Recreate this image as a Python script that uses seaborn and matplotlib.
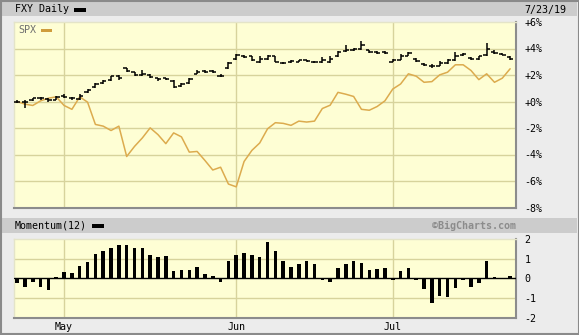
import numpy as np
import pandas as pd
import matplotlib
matplotlib.use('Agg')
import matplotlib.pyplot as plt
import seaborn as sns
from matplotlib.patches import Rectangle

# ---------------- data ----------------
month_labels = ['May', 'Jun', 'Jul']
month_start_idx = [6, 28, 48]

fxy_open = [0.00, -0.05, 0.10, 0.25, 0.20, 0.15, 0.40, 0.30, 0.20, 0.70,
            1.10, 1.40, 1.60, 1.95, 2.50, 2.20, 2.00, 2.00, 1.75, 1.75,
            1.58, 1.15, 1.40, 2.10, 2.30, 2.30, 1.96, 2.50, 3.18, 3.45,
            3.40, 2.95, 3.20, 3.40, 2.90, 2.95, 3.00, 3.10, 3.00, 2.95,
            2.95, 3.40, 3.80, 3.85, 4.00, 3.85, 3.75, 3.70, 3.00, 3.15,
            3.45, 3.20, 2.85, 2.70, 2.70, 2.90, 3.10, 3.50, 3.30, 3.20,
            3.50, 3.75, 3.60, 3.35]
fxy_high = [0.10, 0.08, 0.30, 0.33, 0.28, 0.40, 0.60, 0.35, 0.55, 0.95,
            1.40, 1.65, 1.95, 2.00, 2.55, 2.25, 2.35, 2.05, 1.80, 1.80,
            1.60, 1.40, 1.75, 2.35, 2.35, 2.35, 2.10, 2.95, 3.60, 3.50,
            3.45, 3.40, 3.50, 3.45, 3.00, 3.10, 3.15, 3.15, 3.05, 3.35,
            3.45, 3.80, 4.25, 4.05, 4.55, 3.90, 3.80, 3.80, 3.20, 3.60,
            3.75, 3.25, 2.90, 2.80, 3.05, 3.20, 3.70, 3.65, 3.35, 3.45,
            4.40, 3.90, 3.65, 3.40]
fxy_low = [-0.10, -0.50, 0.05, 0.15, 0.00, 0.10, 0.25, 0.15, 0.15, 0.65,
           1.05, 1.35, 1.55, 1.65, 2.20, 1.95, 1.95, 1.78, 1.55, 1.62,
           1.00, 1.10, 1.35, 2.05, 2.15, 2.15, 1.85, 2.45, 3.10, 3.25,
           3.05, 2.90, 3.15, 2.95, 2.85, 2.90, 2.95, 2.95, 2.90, 2.90,
           2.90, 3.35, 3.75, 3.80, 3.90, 3.65, 3.60, 3.60, 2.95, 3.10,
           3.40, 2.95, 2.70, 2.55, 2.65, 2.85, 3.05, 3.45, 3.10, 3.15,
           3.45, 3.60, 3.50, 3.10]
fxy_close = [-0.03, 0.00, 0.23, 0.23, 0.12, 0.35, 0.35, 0.23, 0.43, 0.86,
             1.32, 1.57, 1.90, 1.75, 2.30, 2.03, 2.10, 1.83, 1.70, 1.70,
             1.07, 1.32, 1.70, 2.26, 2.26, 2.21, 1.96, 2.90, 3.54, 3.36,
             3.10, 3.20, 3.43, 3.00, 2.93, 3.03, 3.10, 3.03, 2.98, 3.10,
             3.20, 3.74, 3.90, 3.99, 4.30, 3.74, 3.66, 3.66, 3.10, 3.40,
             3.66, 3.03, 2.77, 2.65, 2.90, 3.10, 3.40, 3.60, 3.20, 3.40,
             4.00, 3.66, 3.54, 3.18]
spx_pct = [0.00, -0.20, -0.30, 0.05, 0.25, 0.35, -0.30, -0.59, 0.35, -0.05,
           -1.73, -1.86, -2.19, -1.86, -4.15, -3.39, -2.75, -1.99, -2.50, -3.18,
           -2.37, -2.67, -3.82, -3.77, -4.45, -5.17, -4.96, -6.23, -6.44, -4.53,
           -3.69, -3.13, -2.06, -1.60, -1.65, -1.80, -1.48, -1.55, -1.48, -0.53,
           -0.28, 0.69, 0.55, 0.38, -0.59, -0.66, -0.38, 0.05, 0.94, 1.32,
           2.09, 1.91, 1.45, 1.50, 2.01, 2.21, 2.77, 2.77, 2.34, 1.65,
           2.09, 1.45, 1.76, 2.47]
momentum = [-0.26, -0.43, -0.17, -0.43, -0.60, 0.07, 0.34, 0.28, 0.64, 0.84,
            1.26, 1.41, 1.57, 1.72, 1.72, 1.57, 1.57, 1.21, 1.10, 1.16,
            0.38, 0.43, 0.43, 0.59, 0.22, 0.12, -0.17, 0.90, 1.21, 1.31,
            1.21, 1.10, 1.83, 1.41, 0.90, 0.59, 0.74, 0.90, 0.74, -0.10,
            -0.17, 0.53, 0.74, 0.90, 0.79, 0.43, 0.48, 0.53, -0.10, 0.38,
            0.53, -0.10, -0.57, -1.24, -0.90, -0.95, -0.52, -0.10, -0.43, -0.26,
            0.90, 0.05, -0.05, 0.10]

main_ticks = [6, 4, 2, 0, -2, -4, -6, -8]
main_tick_labels = ['+6%', '+4%', '+2%', '+0%', '-2%', '-4%', '-6%', '-8%']
mom_ticks = [2, 1, 0, -1, -2]
mom_tick_labels = ['2', '1', '0', '-1', '-2']

df = pd.DataFrame({'idx': np.arange(len(fxy_close)), 'open': fxy_open,
                   'high': fxy_high, 'low': fxy_low, 'close': fxy_close,
                   'spx': spx_pct, 'mom': momentum})

# ---------------- style ----------------
W, H = 579, 335
sns.set_theme(style='white')
plt.rcParams['font.family'] = ['DejaVu Sans Mono', 'DejaVu Sans']

BG = '#ececec'
HEADER = '#cccccc'
FACE = '#fefed4'
GRID = '#d7d39c'
SPXC = '#dcab4e'

fig = plt.figure(figsize=(W / 100, H / 100), dpi=100, facecolor=BG)


def add_ax(left, top, right, bottom):
    return fig.add_axes([left / W, 1 - bottom / H, (right - left) / W, (bottom - top) / H])


def fig_rect(left, top, right, bottom, **kw):
    r = Rectangle((left / W, 1 - bottom / H), (right - left) / W, (bottom - top) / H,
                  transform=fig.transFigure, **kw)
    fig.add_artist(r)
    return r


# header bars
fig_rect(2, 2, 577, 16, facecolor=HEADER, edgecolor='none', zorder=0)
fig_rect(2, 218, 577, 233, facecolor=HEADER, edgecolor='none', zorder=0)
# outer frame
fig_rect(0.5, 0.5, 578.5, 333.5, fill=False, edgecolor='#8a8a8a', lw=1.5, zorder=5)

fig.text(15 / W, 1 - 9.5 / H, 'FXY Daily', fontsize=7.2, va='center', ha='left', color='black')
fig_rect(74, 8, 86, 11.5, facecolor='black', edgecolor='none')
fig.text(524 / W, 1 - 9.5 / H, '7/23/19', fontsize=7.2, va='center', ha='left', color='black')

fig.text(15 / W, 1 - 225.5 / H, 'Momentum(12)', fontsize=7.2, va='center', ha='left', color='black')
fig_rect(92, 224, 104, 227.5, facecolor='black', edgecolor='none')
fig.text(516 / W, 1 - 225.5 / H, '©BigCharts.com', fontsize=7.2, va='center', ha='right',
         color='#8c8c8c', fontweight='bold')

xmin, xmax = -0.4, 63.75


def style_axes(ax):
    ax.set_facecolor(FACE)
    for s in ['top', 'left']:
        ax.spines[s].set_color('#e4e4c8')
        ax.spines[s].set_linewidth(1)
    for s in ['bottom', 'right']:
        ax.spines[s].set_color('#8c8c8c')
        ax.spines[s].set_linewidth(1.5)
    ax.yaxis.tick_right()
    ax.tick_params(axis='both', length=0, labelsize=7.2, colors='black')
    ax.set_xlim(xmin, xmax)
    ax.set_xlabel('')
    ax.set_ylabel('')


# ---------------- main panel ----------------
ax = add_ax(14, 22, 516, 207.5)
style_axes(ax)
ax.set_ylim(-8, 6)
for y in [4, 2, 0, -2, -4, -6]:
    ax.axhline(y, color=GRID, lw=1, zorder=1)
for m in month_start_idx:
    ax.axvline(m, color=GRID, lw=1, zorder=1)

sns.lineplot(data=df, x='idx', y='spx', color=SPXC, lw=1.1, ax=ax, zorder=3)

ax.vlines(df['idx'], df['low'], df['high'], color='black', lw=1.1, zorder=4)
ax.hlines(df['open'], df['idx'] - 0.42, df['idx'], color='black', lw=1.1, zorder=4)
ax.hlines(df['close'], df['idx'], df['idx'] + 0.42, color='black', lw=1.1, zorder=4)

ax.set_xlim(xmin, xmax)
ax.set_xticks([])
ax.set_yticks(main_ticks)
ax.set_yticklabels(main_tick_labels)
ax.tick_params(axis='y', pad=6)
ax.set_xlabel('')
ax.set_ylabel('')

ax.text(0.008, 0.955, 'SPX', transform=ax.transAxes, fontsize=7.2, color='#6e6e6e',
        va='center', ha='left')
ax.add_patch(Rectangle((0.054, 0.948), 0.022, 0.013, transform=ax.transAxes,
                       facecolor='#cf9c3c', edgecolor='none'))

# ---------------- momentum panel ----------------
ax2 = add_ax(14, 238.5, 516, 317.5)
style_axes(ax2)
for y in [1, -1]:
    ax2.axhline(y, color=GRID, lw=1, zorder=0)
for m in month_start_idx:
    ax2.axvline(m, color=GRID, lw=1, zorder=0)

sns.barplot(data=df, x='idx', y='mom', native_scale=True, width=0.45, color='black',
            errorbar=None, ax=ax2, zorder=3, saturation=1, linewidth=0)
for p in ax2.patches:
    p.set_snap(True)
ax2.axhline(0, color='black', lw=1, zorder=4)

ax2.set_xlim(xmin, xmax)
ax2.set_ylim(-2.0, 2.03)
ax2.set_yticks(mom_ticks)
ax2.set_yticklabels(mom_tick_labels)
ax2.set_xticks(month_start_idx)
ax2.set_xticklabels(month_labels)
ax2.tick_params(axis='y', pad=6)
ax2.tick_params(axis='x', pad=3)
ax2.set_xlabel('')
ax2.set_ylabel('')

fig.savefig('out.png', dpi=100, facecolor=BG)
